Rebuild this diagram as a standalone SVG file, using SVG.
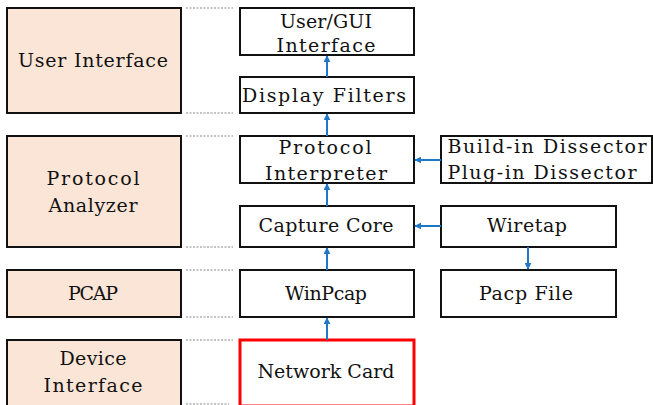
<svg xmlns="http://www.w3.org/2000/svg" width="653" height="405" viewBox="0 0 653 405">
<defs>
<style>
.layer{fill:#fbe5d6;stroke:#111;stroke-width:2}
.box{fill:#fff;stroke:#111;stroke-width:2}
.red{fill:#fff;stroke:#f00;stroke-width:3}
text{font-family:"DejaVu Serif","Liberation Serif",serif;font-size:19px;fill:#111;text-anchor:middle}
.dot{stroke:#888;stroke-width:1.2;stroke-dasharray:2 1.5;fill:none}
.arr{stroke:#1f77c8;stroke-width:2;fill:none;marker-end:url(#ah)}
</style>
<marker id="ah" viewBox="0 0 10 10" refX="9" refY="5" markerWidth="3.5" markerHeight="3.5" orient="auto">
<path d="M0,0 L10,5 L0,10 z" fill="#1f77c8"/>
</marker>
</defs>
<g id="guides">
<line class="dot" x1="186" y1="8" x2="233" y2="8"/>
<line class="dot" x1="186" y1="113" x2="233" y2="113"/>
<line class="dot" x1="186" y1="136" x2="233" y2="136"/>
<line class="dot" x1="186" y1="247" x2="233" y2="247"/>
<line class="dot" x1="186" y1="270" x2="233" y2="270"/>
<line class="dot" x1="186" y1="317" x2="233" y2="317"/>
<line class="dot" x1="186" y1="340" x2="233" y2="340"/>
<line class="dot" x1="186" y1="404" x2="229" y2="404"/>
</g>
<g id="user-interface"><rect class="layer" x="7" y="8" width="174" height="105"/><text x="93" y="67" textLength="150">User Interface</text></g>
<g id="protocol-analyzer"><rect class="layer" x="7" y="136" width="174" height="111"/><text x="93" y="185" textLength="93">Protocol</text><text x="93" y="212" textLength="89">Analyzer</text></g>
<g id="pcap"><rect class="layer" x="7" y="270" width="174" height="47"/><text x="93" y="300" textLength="50">PCAP</text></g>
<g id="device-interface"><rect class="layer" x="7" y="340" width="174" height="66"/><text x="93" y="365" textLength="67">Device</text><text x="93" y="392" textLength="99">Interface</text></g>
<g id="user-gui"><rect class="box" x="240" y="8" width="174" height="47"/><text x="326" y="28" textLength="92">User/GUI</text><text x="326" y="52" textLength="99">Interface</text></g>
<g id="display-filters"><rect class="box" x="240" y="77" width="174" height="36"/><text x="324" y="102" textLength="164">Display Filters</text></g>
<g id="protocol-interpreter"><rect class="box" x="240" y="136" width="174" height="47"/><text x="325" y="154" textLength="93">Protocol</text><text x="326" y="180" textLength="122">Interpreter</text></g>
<g id="capture-core"><rect class="box" x="240" y="206" width="174" height="41"/><text x="326" y="232" textLength="135">Capture Core</text></g>
<g id="winpcap"><rect class="box" x="240" y="270" width="174" height="47"/><text x="326" y="300" textLength="82">WinPcap</text></g>
<g id="network-card"><rect class="red" x="240" y="340" width="174" height="66"/><text x="326" y="378" textLength="137">Network Card</text></g>
<g id="dissectors"><rect class="box" x="441" y="136" width="211" height="47"/><text x="547" y="153" textLength="199">Build-in Dissector</text><text x="542" y="179" textLength="189">Plug-in Dissector</text></g>
<g id="wiretap"><rect class="box" x="441" y="206" width="175" height="41"/><text x="527" y="232" textLength="80">Wiretap</text></g>
<g id="pacp-file"><rect class="box" x="441" y="270" width="175" height="47"/><text x="526" y="300" textLength="94">Pacp File</text></g>
<g id="connectors">
<line class="arr" x1="327" y1="77" x2="327" y2="56"/>
<line class="arr" x1="327" y1="136" x2="327" y2="114"/>
<line class="arr" x1="327" y1="206" x2="327" y2="184"/>
<line class="arr" x1="327" y1="270" x2="327" y2="248"/>
<line class="arr" x1="327" y1="340" x2="327" y2="318"/>
<line class="arr" x1="441" y1="160" x2="415" y2="160"/>
<line class="arr" x1="441" y1="226" x2="415" y2="226"/>
<line class="arr" x1="528" y1="247" x2="528" y2="269"/>
</g>
</svg>
